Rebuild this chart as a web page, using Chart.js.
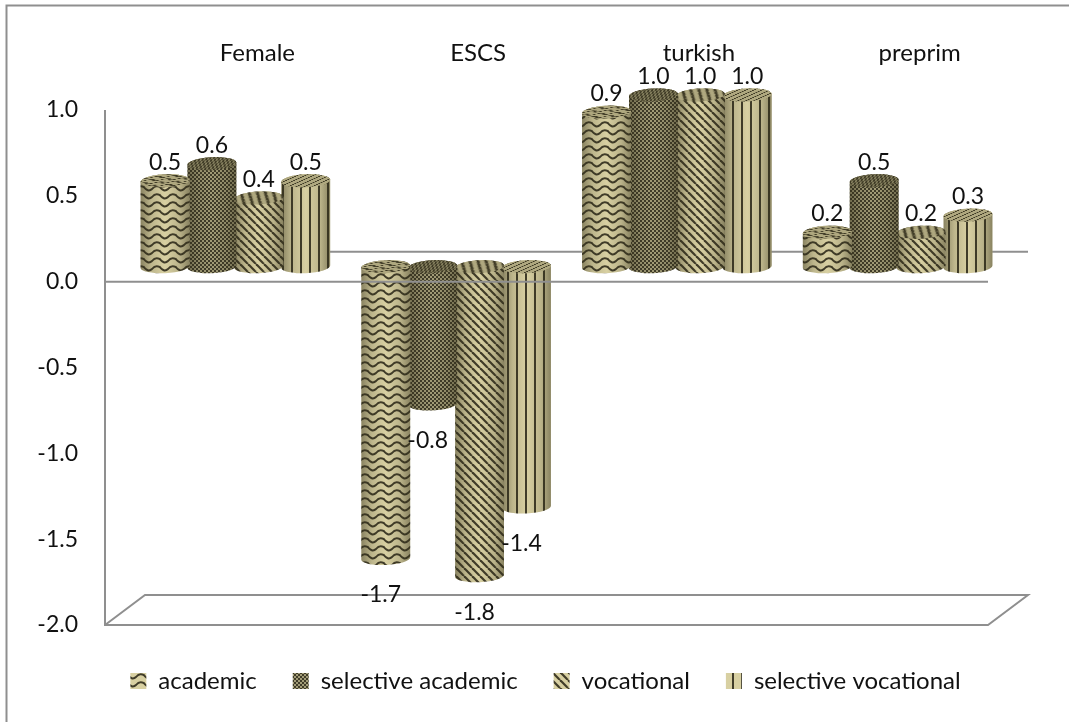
<!DOCTYPE html>
<html>
<head>
<meta charset="utf-8">
<title>Cylinder chart</title>
<script src="https://cdn.jsdelivr.net/npm/chart.js@4/dist/chart.umd.min.js"></script>
<style>
  html, body { margin: 0; padding: 0; background: #fff; }
  #wrap { position: relative; width: 1069px; height: 722px; }
</style>
</head>
<body>
<div id="wrap"><canvas id="cylinders"></canvas></div>
<script>
const categories = ['Female', 'ESCS', 'turkish', 'preprim'];
const academic = [0.5, -1.7, 0.9, 0.2];
const selectiveAcademic = [0.6, -0.8, 1.0, 0.5];
const vocational = [0.4, -1.8, 1.0, 0.2];
const selectiveVocational = [0.5, -1.4, 1.0, 0.3];

const LIGHT = '#d8d0a2';
const DARK = '#403c29';
const LINE = '#8f8f8f';
const TEXT = '#111';
const FONT = 'Lato';
// how far the floor and back wall sit behind the front plane
const WALL_X = 40, WALL_Y = 30;
// bars stand halfway into that depth
const BAR_X = WALL_X / 2, BAR_Y = WALL_Y / 2;
const RY = 6.5, TILT = -0.05;

function tile(w, h, paint) {
  const c = document.createElement('canvas');
  c.width = w; c.height = h;
  const g = c.getContext('2d');
  g.fillStyle = LIGHT;
  g.fillRect(0, 0, w, h);
  g.strokeStyle = DARK;
  g.fillStyle = DARK;
  paint(g, w, h);
  return g.createPattern(c, 'repeat');
}

const wave = tile(16, 8, (g) => {
  g.lineWidth = 2;
  g.beginPath();
  g.moveTo(-1, 2);
  g.quadraticCurveTo(4, 9, 8, 5);
  g.quadraticCurveTo(12, 0, 17, 4);
  g.stroke();
});
const checker = tile(4, 4, (g) => {
  g.fillRect(0, 0, 2, 2);
  g.fillRect(2, 2, 2, 2);
  g.globalAlpha = 0.35;
  g.fillRect(2, 0, 2, 2);
  g.fillRect(0, 2, 2, 2);
});
const diagonal = tile(8, 8, (g) => {
  g.lineWidth = 2.2;
  for (let i = -8; i <= 8; i += 8) {
    g.beginPath();
    g.moveTo(i, 0);
    g.lineTo(i + 8, 8);
    g.stroke();
  }
});
const vertical = tile(9, 4, (g) => {
  g.fillRect(3, 0, 2, 4);
});

class CylinderBar extends Chart.BarElement {
  draw(ctx) {
    const cx = this.x + BAR_X;
    const rx = this.width / 2 + 1;
    const a = this.y - BAR_Y;
    const b = this.base - BAR_Y;
    const top = Math.min(a, b);
    const bottom = Math.max(a, b);
    const fill = this.options.backgroundColor;

    ctx.save();
    // side of the cylinder
    ctx.beginPath();
    ctx.ellipse(cx, bottom, rx, RY, TILT, 0, Math.PI);
    ctx.ellipse(cx, top, rx, RY, TILT, Math.PI, Math.PI * 2);
    ctx.closePath();
    ctx.fillStyle = fill;
    ctx.fill();
    const shade = ctx.createLinearGradient(cx - rx, 0, cx + rx, 0);
    shade.addColorStop(0, 'rgba(50,46,25,0.48)');
    shade.addColorStop(0.22, 'rgba(50,46,25,0.16)');
    shade.addColorStop(0.5, 'rgba(50,46,25,0)');
    shade.addColorStop(0.8, 'rgba(50,46,25,0.18)');
    shade.addColorStop(1, 'rgba(50,46,25,0.48)');
    ctx.fillStyle = shade;
    ctx.fill();

    // cap, pattern squashed so it lies flat
    ctx.beginPath();
    ctx.ellipse(cx, top, rx, RY, TILT, 0, Math.PI * 2);
    ctx.clip();
    ctx.translate(cx, top);
    ctx.transform(1, -0.05, -0.9, 0.4, 0, 0);
    ctx.fillStyle = fill;
    ctx.fillRect(-rx * 3, -RY * 4, rx * 6, RY * 8);
    ctx.fillStyle = 'rgba(50,46,25,0.25)';
    ctx.fillRect(-rx * 3, -RY * 4, rx * 6, RY * 8);
    ctx.restore();
  }
}
CylinderBar.id = 'cylinderBar';
CylinderBar.defaults = { ...Chart.BarElement.defaults };

class CylinderController extends Chart.BarController {}
CylinderController.id = 'cylinder';
CylinderController.defaults = { ...Chart.BarController.defaults, dataElementType: 'cylinderBar' };
CylinderController.overrides = Chart.BarController.overrides;

Chart.register(CylinderBar, CylinderController);

// sheet border, left axis, floor and the back zero line go under the bars
const backdrop = {
  id: 'backdrop',
  afterLayout(chart) {
    const lg = chart.legend;
    lg.left = 22; lg.right = 1069;
    lg.top += 8; lg.bottom += 8;
  },
  beforeDatasetsDraw(chart) {
    const { ctx, chartArea: area, scales: { y } } = chart;
    const zero = y.getPixelForValue(0);
    const floor = y.getPixelForValue(-2);
    ctx.save();
    ctx.strokeStyle = LINE;
    ctx.lineWidth = 2;

    ctx.beginPath();
    ctx.moveTo(6.5, 722);
    ctx.lineTo(6.5, 5.5);
    ctx.lineTo(1069, 5.5);
    ctx.stroke();

    ctx.beginPath();
    ctx.moveTo(area.left, y.getPixelForValue(1));
    ctx.lineTo(area.left, floor);
    ctx.lineTo(area.right, floor);
    ctx.lineTo(area.right + WALL_X, floor - WALL_Y);
    ctx.lineTo(area.left + WALL_X, floor - WALL_Y);
    ctx.lineTo(area.left, floor);
    ctx.stroke();

    ctx.beginPath();
    ctx.moveTo(area.left + WALL_X, zero - WALL_Y);
    ctx.lineTo(area.right + WALL_X, zero - WALL_Y);
    ctx.stroke();
    ctx.restore();
  },
  afterDatasetsDraw(chart) {
    const { ctx, chartArea: area, scales: { y } } = chart;
    const zero = y.getPixelForValue(0);
    ctx.save();
    ctx.strokeStyle = LINE;
    ctx.lineWidth = 2;
    ctx.beginPath();
    ctx.moveTo(area.left, zero);
    ctx.lineTo(area.right, zero);
    ctx.stroke();

    // value labels
    ctx.fillStyle = TEXT;
    ctx.font = '23px ' + FONT;
    ctx.textAlign = 'center';
    ctx.textBaseline = 'middle';
    chart.data.datasets.forEach((ds, i) => {
      chart.getDatasetMeta(i).data.forEach((bar, j) => {
        const v = ds.data[j];
        const text = v.toFixed(1);
        if (v >= 0) {
          ctx.fillText(text, bar.x + BAR_X, bar.y - BAR_Y - RY - 12);
        } else {
          ctx.fillText(text, bar.x + BAR_X - 5, bar.y - BAR_Y + RY + 30);
        }
      });
    });
    ctx.restore();
  }
};

function series(label, data, pattern) {
  return { type: 'cylinder', label, data, backgroundColor: pattern, borderWidth: 0, clip: false };
}

new Chart(document.getElementById('cylinders'), {
  data: {
    labels: categories,
    datasets: [
      series('academic', academic, wave),
      series('selective academic', selectiveAcademic, checker),
      series('vocational', vocational, diagonal),
      series('selective vocational', selectiveVocational, vertical)
    ]
  },
  plugins: [backdrop],
  options: {
    responsive: true,
    maintainAspectRatio: false,
    animation: false,
    layout: { padding: { left: 22, right: 81, top: 0, bottom: 27 } },
    datasets: { cylinder: { categoryPercentage: 0.85, barPercentage: 1 } },
    plugins: {
      tooltip: { enabled: false },
      legend: {
        position: 'bottom',
        labels: {
          boxWidth: 16,
          boxHeight: 16,
          padding: 36,
          color: TEXT,
          font: { family: FONT, size: 24 }
        }
      }
    },
    scales: {
      x: {
        position: 'top',
        grid: { display: false },
        border: { display: false },
        afterFit: (s) => { s.height = 110; },
        ticks: {
          color: TEXT,
          padding: 34,
          labelOffset: 42,
          maxRotation: 0,
          font: { family: FONT, size: 24 }
        }
      },
      y: {
        min: -2,
        max: 1,
        grid: { display: false },
        border: { display: false },
        afterFit: (s) => { s.width = 83; },
        ticks: {
          stepSize: 0.5,
          color: TEXT,
          padding: 19,
          font: { family: FONT, size: 23 },
          callback: (v) => v.toFixed(1)
        }
      }
    }
  }
});
</script>
</body>
</html>
